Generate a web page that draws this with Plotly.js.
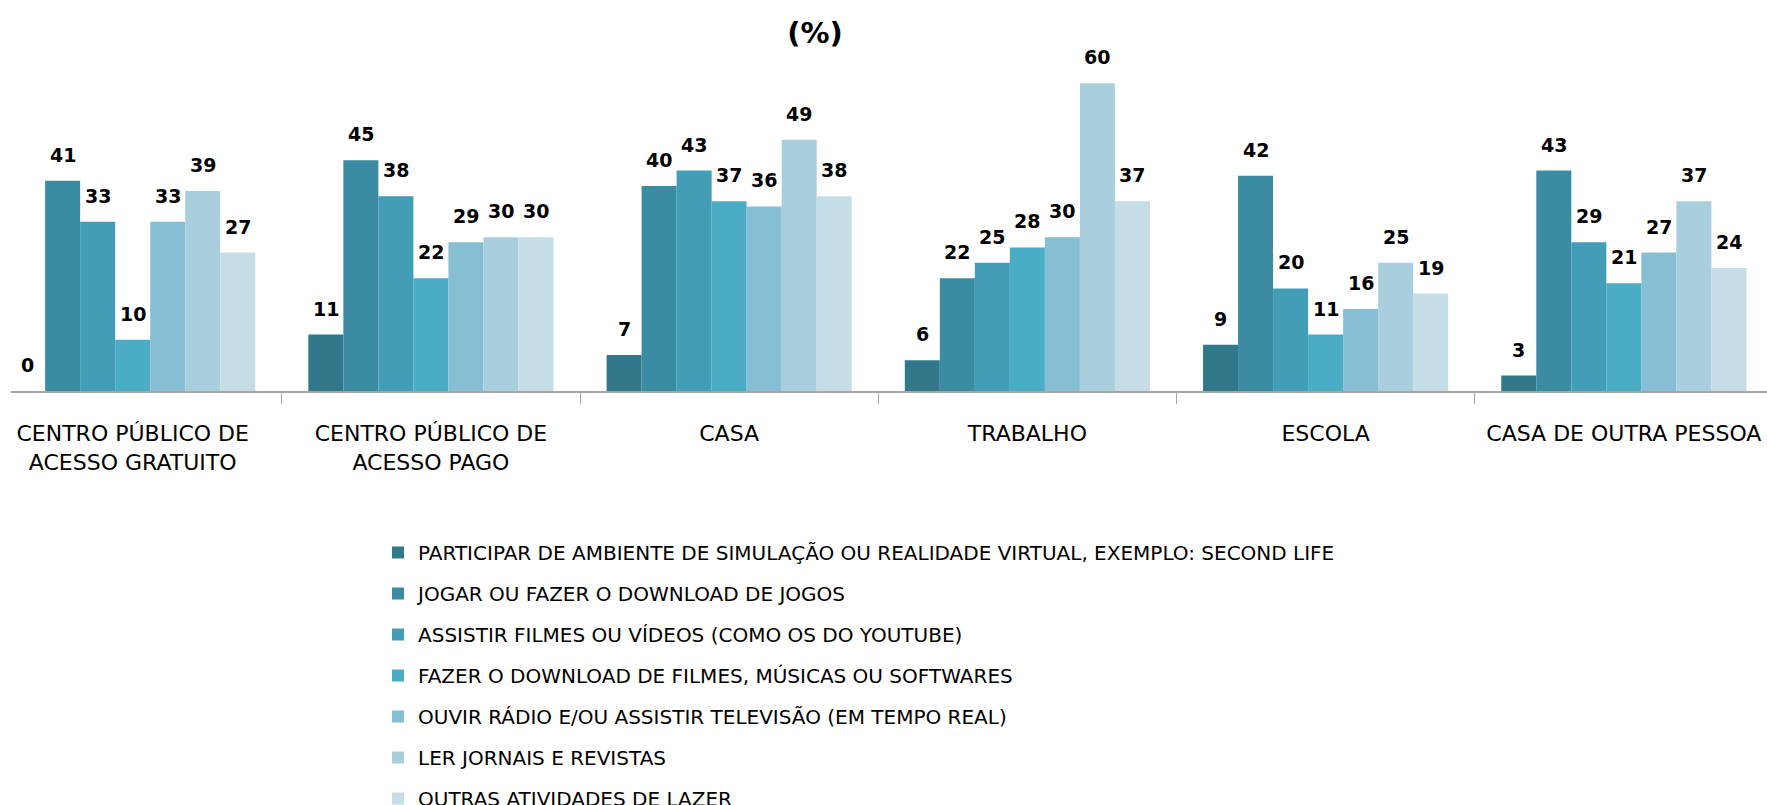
<!DOCTYPE html>
<html>
<head>
<meta charset="utf-8">
<script src="https://cdn.plot.ly/plotly-3.0.1.min.js"></script>
<style>html,body{margin:0;padding:0;background:#fff;}#chart{width:1767px;height:805px;}</style>
</head>
<body>
<div id="chart"></div>
<script>
// Categories (places of access)
const categories = [
  "CENTRO PÚBLICO DE<br>ACESSO GRATUITO",
  "CENTRO PÚBLICO DE<br>ACESSO PAGO",
  "CASA",
  "TRABALHO",
  "ESCOLA",
  "CASA DE OUTRA PESSOA"
];

// Series names
const seriesNames = [
  "PARTICIPAR DE AMBIENTE DE SIMULAÇÃO OU REALIDADE VIRTUAL, EXEMPLO: SECOND LIFE",
  "JOGAR OU FAZER O DOWNLOAD DE JOGOS",
  "ASSISTIR FILMES OU VÍDEOS (COMO OS DO YOUTUBE)",
  "FAZER O DOWNLOAD DE FILMES, MÚSICAS OU SOFTWARES",
  "OUVIR RÁDIO E/OU ASSISTIR TELEVISÃO (EM TEMPO REAL)",
  "LER JORNAIS E REVISTAS",
  "OUTRAS ATIVIDADES DE LAZER"
];

// Series values (%), one array per activity, in category order
const secondLife   = [0, 11, 7, 6, 9, 3];
const jogos        = [41, 45, 40, 22, 42, 43];
const filmesVideos = [33, 38, 43, 25, 20, 29];
const downloads    = [10, 22, 37, 28, 11, 21];
const radioTv      = [33, 29, 36, 30, 16, 27];
const jornais      = [39, 30, 49, 60, 25, 37];
const outras       = [27, 30, 38, 37, 19, 24];

const seriesValues = [secondLife, jogos, filmesVideos, downloads, radioTv, jornais, outras];

const colors = ["#31788A", "#3B8BA3", "#449DB6", "#4BACC6", "#86BFD3", "#A9CFDE", "#C4DDE6"];

const BARGAP = 0.178;
const nSeries = seriesValues.length;

const traces = seriesValues.map((vals, i) => ({
  type: "bar",
  name: seriesNames[i],
  x: categories,
  y: vals,
  marker: {color: colors[i], line: {width: 0}},
  legendgroup: "g" + i,
  hoverinfo: "y+name"
}));

// Data labels placed above each bar via the axes
const annotations = [];
const w = (1 - BARGAP) / nSeries;
seriesValues.forEach((vals, i) => {
  vals.forEach((v, k) => {
    annotations.push({
      x: k + (i - (nSeries - 1) / 2) * w,
      y: v,
      xref: "x", yref: "y",
      text: "<b>" + v + "</b>",
      showarrow: false,
      xanchor: "center", yanchor: "bottom",
      yshift: 13,
      font: {family: "DejaVu Sans", size: 19, color: "#000"}
    });
  });
});

const layout = {
  width: 1767, height: 805,
  paper_bgcolor: "#fff", plot_bgcolor: "#fff",
  margin: {l: 11, r: 0, t: 50, b: 414, autoexpand: false},
  title: {
    text: "<b>(%)</b>",
    font: {family: "DejaVu Sans", size: 29, color: "#000"},
    x: 815 / 1767, xanchor: "center", xref: "container",
    y: 1 - 33 / 805, yanchor: "middle", yref: "container",
    automargin: false
  },
  barmode: "group",
  bargap: BARGAP,
  bargroupgap: 0,
  showlegend: true,
  legend: {
    orientation: "v",
    xref: "container", yref: "container",
    x: 378 / 1767, xanchor: "left",
    y: 1 - 533 / 805, yanchor: "top",
    font: {family: "DejaVu Sans", size: 20, color: "#000"},
    tracegroupgap: 12,
    traceorder: "grouped",
    bgcolor: "rgba(0,0,0,0)"
  },
  xaxis: {
    type: "category",
    range: [-0.408, 5.48],
    tickson: "boundaries",
    ticks: "outside",
    ticklen: 11,
    tickwidth: 1,
    tickcolor: "#a6a6a6",
    tickangle: 0,
    automargin: false,
    showline: true,
    linecolor: "#a6a6a6",
    linewidth: 2,
    showgrid: false,
    zeroline: false,
    ticklabelstandoff: 22,
    tickfont: {family: "DejaVu Sans", size: 22, color: "#000"},
    fixedrange: true
  },
  yaxis: {
    range: [0, 66.5],
    visible: false,
    showgrid: false,
    zeroline: false,
    automargin: false,
    fixedrange: true
  },
  annotations: annotations
};

Plotly.newPlot("chart", traces, layout, {displayModeBar: false, staticPlot: true});
</script>
</body>
</html>
